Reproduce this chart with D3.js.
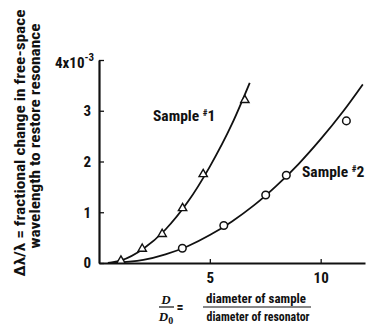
<!DOCTYPE html>
<html><head><meta charset="utf-8">
<script src="https://cdn.jsdelivr.net/npm/d3@7"></script>
<style>
body{margin:0;background:#fff;}
svg{display:block;}
text{fill:#111;}
</style></head>
<body>
<svg id="chart" width="376" height="326"></svg>
<script>
// ---- data ----
const sample1X = [0.99, 1.95, 2.85, 3.77, 4.70, 6.58];
const sample1Y = [0.045, 0.28, 0.57, 1.08, 1.75, 3.21];
const sample2X = [3.76, 5.63, 7.52, 8.45, 11.16];
const sample2Y = [0.29, 0.74, 1.34, 1.73, 2.80];
// smooth fitted curves as drawn in the figure
const curve1X = [0.4, 1, 2, 3, 4, 5, 6, 6.8];
const curve1Y = [0, 0.05, 0.28, 0.66, 1.2, 1.9, 2.74, 3.55];
const curve2X = [0.5, 2, 3, 4, 5, 6, 7, 8, 9, 10, 11, 11.9];
const curve2Y = [0, 0.06, 0.17, 0.33, 0.55, 0.82, 1.14, 1.52, 1.95, 2.44, 2.98, 3.52];
const xTicks = [5, 10];
const yTicks = [0, 1, 2, 3, 4];
const xDomain = [0, 12];
const yDomain = [0, 4];

const svg = d3.select("#chart");
const F = "'Liberation Sans Narrow','Arial Narrow','Roboto Condensed','Liberation Sans',Arial,sans-serif";

const x = d3.scaleLinear().domain(xDomain).range([99, 365]);
const y = d3.scaleLinear().domain(yDomain).range([263, 60]);

// axes
const xAxis = d3.axisBottom(x).tickValues(xTicks).tickSizeInner(-4).tickSizeOuter(0).tickPadding(9)
  .tickFormat(d3.format("d"));
const gx = svg.append("g").attr("transform", `translate(0,${y(0)})`).call(xAxis);
gx.select(".domain").attr("stroke", "#111").attr("stroke-width", 2.2);
gx.selectAll(".tick line").attr("stroke", "#111").attr("stroke-width", 1.3);
gx.selectAll(".tick text").attr("font-family", F).attr("font-weight", "bold").attr("font-size", 15).attr("fill", "#111");

const yAxis = d3.axisLeft(y).tickValues(yTicks).tickSizeInner(-5).tickSizeOuter(0).tickPadding(8)
  .tickFormat(d3.format("d"));
const gy = svg.append("g").attr("transform", `translate(${x(0)},0)`).call(yAxis);
gy.select(".domain").attr("stroke", "#111").attr("stroke-width", 2.2);
gy.selectAll(".tick line").attr("stroke", "#111").attr("stroke-width", 1.3);
gy.selectAll(".tick text").attr("font-family", F).attr("font-weight", "bold").attr("font-size", 15).attr("fill", "#111");
gy.selectAll(".tick").filter(d => d === 4).select("text").each(function(){
  const t = d3.select(this).text("").attr("x", -5).attr("dy", "0.5em");
  t.append("tspan").text("4x10");
  t.append("tspan").text("-3").attr("font-size", 11).attr("dy", "-0.6em");
});

// curves
const line = d3.line().x(d => x(d[0])).y(d => y(d[1])).curve(d3.curveMonotoneX);
svg.append("path").datum(d3.zip(curve1X, curve1Y)).attr("d", line)
  .attr("fill", "none").attr("stroke", "#111").attr("stroke-width", 1.8);
svg.append("path").datum(d3.zip(curve2X, curve2Y)).attr("d", line)
  .attr("fill", "none").attr("stroke", "#111").attr("stroke-width", 1.8);

// markers
const tri = d3.symbol().type(d3.symbolTriangle).size(30);
svg.append("g").selectAll("path").data(d3.zip(sample1X, sample1Y)).join("path")
  .attr("d", tri).attr("transform", d => `translate(${x(d[0])},${y(d[1])})`)
  .attr("fill", "#fff").attr("stroke", "#111").attr("stroke-width", 1.4);
svg.append("g").selectAll("circle").data(d3.zip(sample2X, sample2Y)).join("circle")
  .attr("cx", d => x(d[0])).attr("cy", d => y(d[1])).attr("r", 3.8)
  .attr("fill", "#fff").attr("stroke", "#111").attr("stroke-width", 1.5);

// sample labels
function sampleLabel(px, py, num){
  const t = svg.append("text").attr("x", px).attr("y", py)
    .attr("font-family", F).attr("font-weight", "bold").attr("font-size", 15.5);
  t.append("tspan").text("Sample ");
  t.append("tspan").text("#").attr("font-size", 9).attr("dy", -5);
  t.append("tspan").text(num).attr("dy", 5);
}
sampleLabel(153, 121, "1");
sampleLabel(302, 177, "2");

// y axis title (rotated)
const yt = svg.append("g");
yt.append("text").attr("transform", "translate(25,143) rotate(-90)").attr("text-anchor", "middle")
  .attr("font-family", F).attr("font-weight", "bold").attr("font-size", 14.5)
  .attr("textLength", 267).attr("lengthAdjust", "spacingAndGlyphs")
  .text("Δλ/λ = fractional change in free-space");
yt.append("text").attr("transform", "translate(40,136) rotate(-90)").attr("text-anchor", "middle")
  .attr("font-family", F).attr("font-weight", "bold").attr("font-size", 14.5)
  .attr("textLength", 225).attr("lengthAdjust", "spacingAndGlyphs")
  .text("wavelength to restore resonance");

// x axis title: D/D0 = diameter of sample / diameter of resonator
const xt = svg.append("g");
xt.append("text").attr("x", 166).attr("y", 304).attr("text-anchor", "middle")
  .attr("font-family", "'Liberation Serif','DejaVu Serif',serif").attr("font-style", "italic").attr("font-weight", "bold")
  .attr("font-size", 13).text("D");
xt.append("line").attr("x1", 159).attr("x2", 174).attr("y1", 307).attr("y2", 307).attr("stroke", "#111").attr("stroke-width", 1.2);
const d0 = xt.append("text").attr("x", 166).attr("y", 321).attr("text-anchor", "middle")
  .attr("font-family", "'Liberation Serif','DejaVu Serif',serif").attr("font-style", "italic").attr("font-weight", "bold")
  .attr("font-size", 13);
d0.append("tspan").text("D");
d0.append("tspan").text("0").attr("font-size", 10).attr("font-style", "normal").attr("dy", 3);
xt.append("text").attr("x", 180).attr("y", 312).attr("text-anchor", "middle")
  .attr("font-family", F).attr("font-weight", "bold").attr("font-size", 14).text("=");
xt.append("text").attr("x", 256).attr("y", 303).attr("text-anchor", "middle")
  .attr("font-family", F).attr("font-size", 12.5).attr("font-weight", "bold")
  .attr("textLength", 100).attr("lengthAdjust", "spacingAndGlyphs").text("diameter of sample");
xt.append("line").attr("x1", 203).attr("x2", 311).attr("y1", 307).attr("y2", 307).attr("stroke", "#111").attr("stroke-width", 1.2);
xt.append("text").attr("x", 258).attr("y", 321).attr("text-anchor", "middle")
  .attr("font-family", F).attr("font-size", 12.5).attr("font-weight", "bold")
  .attr("textLength", 103).attr("lengthAdjust", "spacingAndGlyphs").text("diameter of resonator");
</script>
</body></html>
